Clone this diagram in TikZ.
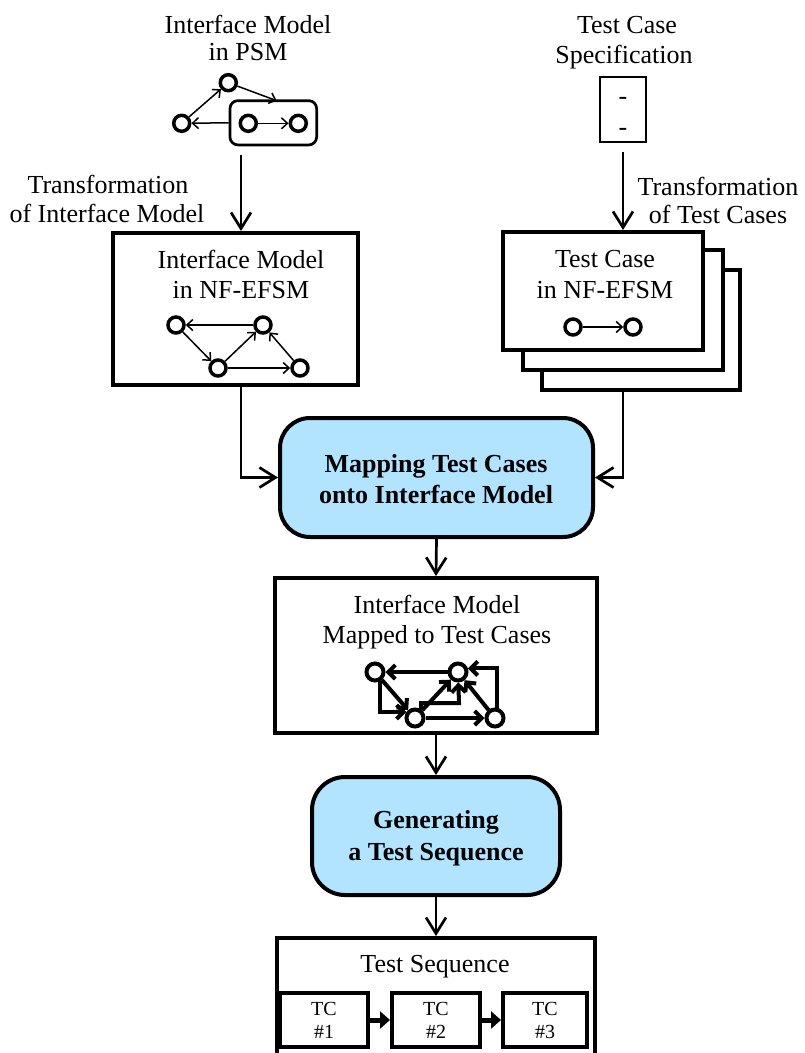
\documentclass[tikz,border=0pt]{standalone}
\usepackage{fontspec}
\setmainfont{Liberation Serif}
\usetikzlibrary{arrows.meta}
\definecolor{procblue}{RGB}{178,228,255}

\begin{document}
\begin{tikzpicture}[x=1pt,y=-1pt,
  lbl/.style={anchor=base, inner sep=0pt, font=\fontsize{26}{30}\selectfont},
  blbl/.style={anchor=base, inner sep=0pt, font=\fontsize{26}{30}\selectfont\bfseries},
  tclbl/.style={anchor=base, inner sep=0pt, font=\fontsize{20}{24}\selectfont},
  box/.style={draw, line width=4pt, fill=white, inner sep=0pt},
  proc/.style={draw, line width=4pt, fill=procblue, inner sep=0pt},
  st/.style={circle, draw, line width=3.5pt, fill=white, minimum size=16pt, inner sep=0pt},
  mst/.style={circle, draw, line width=4pt, fill=white, minimum size=17pt, inner sep=0pt},
  flow/.style={line width=2.7pt, -{Straight Barb[length=16pt,width=20pt]}},
  thin/.style={line width=1.5pt, -{Straight Barb[length=6pt,width=11pt]}},
  thick/.style={line width=4pt, -{Straight Barb[length=7pt,width=14pt]}},
  seqarr/.style={line width=5pt, -{Triangle[length=10pt,width=17pt]}}
]
\path[use as bounding box, clip] (0,0) rectangle (805,1053);
\fill[white] (0,0) rectangle (805,1053);

% ---- interface model in PSM ----
\node[lbl] (psmA) at (248,33) {Interface Model};
\node[lbl] (psmB) at (248,60) {in PSM};
\node[draw, line width=2.7pt, rounded corners=8pt, minimum width=86.7pt, minimum height=44.3pt, inner sep=0pt] (psmgrp) at (273.3,122.8) {};
\node[st] (p1) at (181.7,123.3) {};
\node[st] (p2) at (228.3,82.7) {};
\node[st] (p3) at (248.3,123.3) {};
\node[st] (p4) at (298.3,123.3) {};
\coordinate (psmin) at (276.7,100.7);
\draw[thin] (p1) -- (p2);
\draw[thin] (p2) -- (psmin);
\draw[thin] (psmgrp.west) -- (p1);
\draw[thin] (p3) -- (p4);

% ---- test case specification ----
\node[lbl] (specA) at (627,33) {Test Case};
\node[lbl] (specB) at (624,63) {Specification};
\node[draw, line width=2.7pt, minimum width=46pt, minimum height=65pt, inner sep=0pt] (spec) at (623,109.5) {};
\node[lbl] (dashA) at (623,104) {-};
\node[lbl] (dashB) at (623,135) {-};

% ---- transformation labels ----
\node[lbl] (trA1) at (108,193) {Transformation};
\node[lbl] (trA2) at (107,222) {of Interface Model};
\node[lbl] (trB1) at (718,195) {Transformation};
\node[lbl] (trB2) at (718,223) {of Test Cases};

% ---- interface model in NF-EFSM ----
\node[box, minimum width=245pt, minimum height=152pt] (ibox) at (235.5,309) {};
\node[lbl] (iboxA) at (241,268) {Interface Model};
\node[lbl] (iboxB) at (241,298) {in NF-EFSM};
\node[st] (n1) at (176,325) {};
\node[st] (n2) at (263,325) {};
\node[st] (n3) at (218,368) {};
\node[st] (n4) at (300,368) {};
\draw[thin] (n2) -- (n1);
\draw[thin] (n1) -- (n3);
\draw[thin] (n3) -- (n2);
\draw[thin] (n3) -- (n4);
\draw[thin] (n4) -- (n2);

% ---- stacked test cases in NF-EFSM ----
\node[box, minimum width=198pt, minimum height=120pt] (tcback) at (641,330) {};
\node[box, minimum width=200pt, minimum height=120pt] (tcmid) at (623,310) {};
\node[box, minimum width=200pt, minimum height=118pt] (tcfront) at (603,291) {};
\node[lbl] (tcA) at (605,267) {Test Case};
\node[lbl] (tcB) at (605,298) {in NF-EFSM};
\node[st] (t1) at (573,327) {};
\node[st] (t2) at (633,327) {};
\draw[thin] (t1) -- (t2);

% ---- mapping process ----
\node[proc, rounded corners=30pt, minimum width=313pt, minimum height=119pt] (map) at (436.5,477.5) {};
\node[blbl] (mapA) at (436,472) {Mapping Test Cases};
\node[blbl] (mapB) at (436,503) {onto Interface Model};

% ---- inputs to the mapping ----
\coordinate (psmout) at (241,155);
\coordinate (specout) at (623,152);
\coordinate (stackout) at (623,390);
\draw[flow] (psmout) -- (psmout |- ibox.north);
\draw[flow] (specout) -- (specout |- tcfront.north);
\draw[flow] (psmout |- ibox.south) |- (map.west);
\draw[flow] (stackout) |- (map.east);

% ---- interface model mapped to test cases ----
\node[box, minimum width=322pt, minimum height=155pt] (mapped) at (436,655.5) {};
\node[lbl] (mappedA) at (437,613) {Interface Model};
\node[lbl] (mappedB) at (437,643) {Mapped to Test Cases};
\node[mst] (ma) at (375,672) {};
\node[mst] (mb) at (458,672) {};
\node[mst] (mc) at (415,718) {};
\node[mst] (md) at (495,718) {};
\coordinate (mcb) at (459,703);
\draw[thick] (mb) -- (ma);
\draw[thick] (ma) -- (mc);
\draw[thick] (ma.-60) |- (mc.145);
\draw[thick] (mc) -- (mb);
\draw[thick] (mc.55) |- (mcb) -- (mb);
\draw[thick] (mc) -- (md);
\draw[thick] (md) -- (mb);
\draw[thick] (md.80) |- (mb.20);
\draw[flow] (map.south) -- (mapped.north);

% ---- sequence generation ----
\node[proc, rounded corners=33pt, minimum width=248pt, minimum height=118pt] (gen) at (436,836) {};
\node[blbl] (genA) at (436,828) {Generating};
\node[blbl] (genB) at (436,860) {a Test Sequence};
\draw[flow] (mapped.south) -- (gen.north);

% ---- resulting test sequence ----
\node[box, minimum width=318pt, minimum height=146pt] (seq) at (436,1011) {};
\node[lbl] (seqA) at (435,972) {Test Sequence};
\draw[flow] (gen.south) -- (seq.north);
\node[box, minimum width=88pt, minimum height=54pt] (tc1) at (324,1020) {};
\node[box, minimum width=88pt, minimum height=54pt] (tc2) at (436,1020) {};
\node[box, minimum width=84pt, minimum height=54pt] (tc3) at (545,1020) {};
\node[tclbl] (tc1a) at (324,1015) {TC};
\node[tclbl] (tc1b) at (324,1038) {\#1};
\node[tclbl] (tc2a) at (436,1015) {TC};
\node[tclbl] (tc2b) at (436,1038) {\#2};
\node[tclbl] (tc3a) at (545,1015) {TC};
\node[tclbl] (tc3b) at (545,1038) {\#3};
\draw[seqarr] (tc1.east) -- (tc2.west);
\draw[seqarr] (tc2.east) -- (tc3.west);
\end{tikzpicture}
\end{document}
